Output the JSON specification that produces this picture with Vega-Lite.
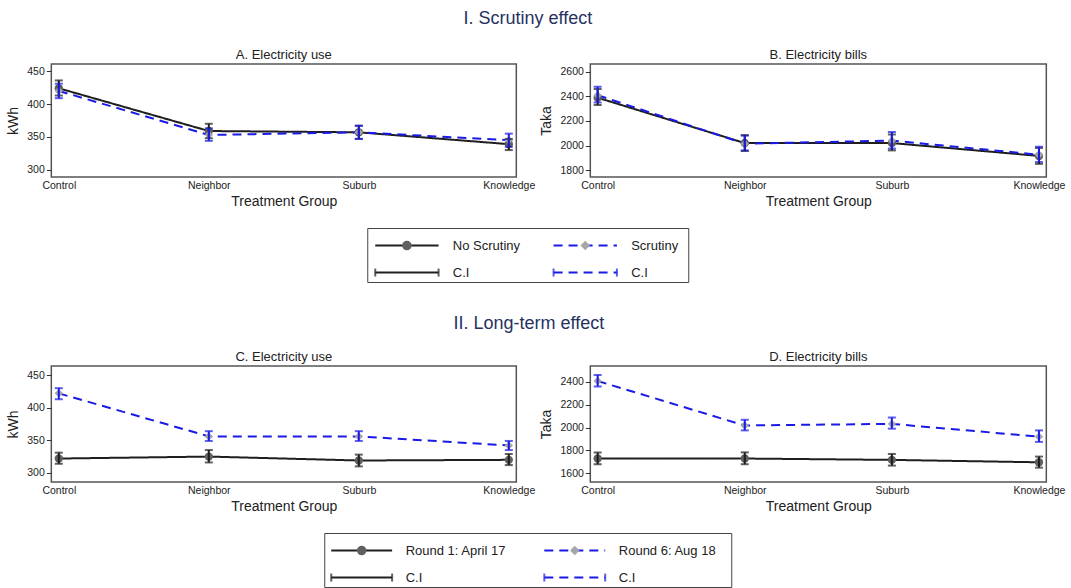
{
  "$schema": "https://vega.github.io/schema/vega-lite/v6.json",
  "padding": {"left": 6, "top": 10, "right": 2, "bottom": 0},
  "background": "white",
  "config": {
    "font": "Liberation Sans",
    "view": {"stroke": "#555555", "strokeWidth": 1.5},
    "title": {"fontSize": 13, "fontWeight": "normal", "color": "#222222", "offset": 2},
    "axis": {
      "grid": false,
      "domain": false,
      "labelFont": "Liberation Sans",
      "labelFontSize": 10.5,
      "labelColor": "#222222",
      "titleFont": "Liberation Sans",
      "titleFontSize": 14,
      "titleFontWeight": "normal",
      "titleColor": "#222222",
      "tickColor": "#333333",
      "tickSize": 5
    },
    "axisX": {"ticks": false, "labelAngle": 0, "labelPadding": 3, "titlePadding": 4},
    "axisY": {"labelPadding": 2, "titlePadding": 6, "format": "d", "labelOverlap": false}
  },
  "datasets": {
    "useScrutiny": [
      {"group": "Control", "series": "No Scrutiny", "mean": 424, "lo": 413, "hi": 436},
      {"group": "Neighbor", "series": "No Scrutiny", "mean": 359, "lo": 348, "hi": 370},
      {"group": "Suburb", "series": "No Scrutiny", "mean": 357, "lo": 347, "hi": 367},
      {"group": "Knowledge", "series": "No Scrutiny", "mean": 339, "lo": 330, "hi": 347},
      {"group": "Control", "series": "Scrutiny", "mean": 420, "lo": 409, "hi": 431},
      {"group": "Neighbor", "series": "Scrutiny", "mean": 353, "lo": 344, "hi": 363},
      {"group": "Suburb", "series": "Scrutiny", "mean": 357, "lo": 347, "hi": 367},
      {"group": "Knowledge", "series": "Scrutiny", "mean": 345, "lo": 335, "hi": 355}
    ],
    "billsScrutiny": [
      {"group": "Control", "series": "No Scrutiny", "mean": 2390, "lo": 2330, "hi": 2460},
      {"group": "Neighbor", "series": "No Scrutiny", "mean": 2020, "lo": 1955, "hi": 2085},
      {"group": "Suburb", "series": "No Scrutiny", "mean": 2020, "lo": 1960, "hi": 2090},
      {"group": "Knowledge", "series": "No Scrutiny", "mean": 1915, "lo": 1850, "hi": 1980},
      {"group": "Control", "series": "Scrutiny", "mean": 2410, "lo": 2350, "hi": 2480},
      {"group": "Neighbor", "series": "Scrutiny", "mean": 2015, "lo": 1960, "hi": 2080},
      {"group": "Suburb", "series": "Scrutiny", "mean": 2040, "lo": 1975, "hi": 2110},
      {"group": "Knowledge", "series": "Scrutiny", "mean": 1925, "lo": 1865, "hi": 1990}
    ],
    "useRounds": [
      {"group": "Control", "series": "Round 1: April 17", "mean": 322, "lo": 314, "hi": 331},
      {"group": "Neighbor", "series": "Round 1: April 17", "mean": 325, "lo": 316, "hi": 335},
      {"group": "Suburb", "series": "Round 1: April 17", "mean": 319, "lo": 310, "hi": 328},
      {"group": "Knowledge", "series": "Round 1: April 17", "mean": 320, "lo": 312, "hi": 329},
      {"group": "Control", "series": "Round 6: Aug 18", "mean": 422, "lo": 413, "hi": 430},
      {"group": "Neighbor", "series": "Round 6: Aug 18", "mean": 356, "lo": 349, "hi": 364},
      {"group": "Suburb", "series": "Round 6: Aug 18", "mean": 356, "lo": 349, "hi": 364},
      {"group": "Knowledge", "series": "Round 6: Aug 18", "mean": 342, "lo": 335, "hi": 349}
    ],
    "billsRounds": [
      {"group": "Control", "series": "Round 1: April 17", "mean": 1728, "lo": 1678, "hi": 1780},
      {"group": "Neighbor", "series": "Round 1: April 17", "mean": 1728, "lo": 1678, "hi": 1782},
      {"group": "Suburb", "series": "Round 1: April 17", "mean": 1716, "lo": 1666, "hi": 1768},
      {"group": "Knowledge", "series": "Round 1: April 17", "mean": 1695, "lo": 1648, "hi": 1745},
      {"group": "Control", "series": "Round 6: Aug 18", "mean": 2408, "lo": 2360, "hi": 2460},
      {"group": "Neighbor", "series": "Round 6: Aug 18", "mean": 2018, "lo": 1975, "hi": 2068},
      {"group": "Suburb", "series": "Round 6: Aug 18", "mean": 2032, "lo": 1990, "hi": 2088},
      {"group": "Knowledge", "series": "Round 6: Aug 18", "mean": 1920, "lo": 1874, "hi": 1975}
    ],
    "legendScrutiny": [
      {"series": "No Scrutiny", "kind": "main", "label": "No Scrutiny"},
      {"series": "Scrutiny", "kind": "main", "label": "Scrutiny"},
      {"series": "No Scrutiny", "kind": "ci", "label": "C.I"},
      {"series": "Scrutiny", "kind": "ci", "label": "C.I"}
    ],
    "legendRounds": [
      {"series": "Round 1: April 17", "kind": "main", "label": "Round 1: April 17"},
      {"series": "Round 6: Aug 18", "kind": "main", "label": "Round 6: Aug 18"},
      {"series": "Round 1: April 17", "kind": "ci", "label": "C.I"},
      {"series": "Round 6: Aug 18", "kind": "ci", "label": "C.I"}
    ]
  },
  "vconcat": [
    {
      "title": {"text": "I. Scrutiny effect", "fontSize": 18, "color": "#26325f", "anchor": "middle", "offset": 20, "dx": -8},
      "center": true,
      "spacing": 17,
      "vconcat": [
        {
          "spacing": 2,
          "hconcat": [
            {
              "width": 465, "height": 113,
              "title": "A. Electricity use",
              "data": {"name": "useScrutiny"},
              "encoding": {
                "x": {"field": "group", "type": "nominal", "sort": ["Control", "Neighbor", "Suburb", "Knowledge"], "scale": {"type": "point", "padding": 0.05}, "axis": {"title": "Treatment Group"}}
              },
              "layer": [
                {
                  "mark": {"type": "line", "strokeWidth": 2},
                  "encoding": {
                    "y": {"field": "mean", "type": "quantitative", "scale": {"domain": [289, 461], "nice": false, "zero": false}, "axis": {"title": "kWh", "values": [300, 350, 400, 450]}},
                    "color": {"field": "series", "type": "nominal", "scale": {"domain": ["No Scrutiny", "Scrutiny"], "range": ["#1e1e1e", "#1a1ae6"]}, "legend": null},
                    "strokeDash": {"field": "series", "type": "nominal", "scale": {"domain": ["No Scrutiny", "Scrutiny"], "range": [[1, 0], [9, 6]]}, "legend": null}
                  }
                },
                {
                  "mark": {"type": "point", "filled": true, "size": 70, "opacity": 1},
                  "encoding": {
                    "y": {"field": "mean", "type": "quantitative", "axis": {"title": "kWh", "values": [300, 350, 400, 450]}},
                    "shape": {"field": "series", "type": "nominal", "scale": {"domain": ["No Scrutiny", "Scrutiny"], "range": ["circle", "diamond"]}, "legend": null},
                    "fill": {"field": "series", "type": "nominal", "scale": {"domain": ["No Scrutiny", "Scrutiny"], "range": ["#606060", "#a6a6a6"]}, "legend": null}
                  }
                },
                {
                  "mark": {"type": "errorbar", "ticks": {"size": 8}, "thickness": 2},
                  "encoding": {
                    "y": {"field": "lo", "type": "quantitative", "axis": {"title": "kWh", "values": [300, 350, 400, 450]}},
                    "y2": {"field": "hi"},
                    "color": {"field": "series", "type": "nominal", "legend": null}
                  }
                }
              ]
            },
            {
              "width": 456, "height": 113,
              "title": "B. Electricity bills",
              "data": {"name": "billsScrutiny"},
              "encoding": {
                "x": {"field": "group", "type": "nominal", "sort": ["Control", "Neighbor", "Suburb", "Knowledge"], "scale": {"type": "point", "padding": 0.05}, "axis": {"title": "Treatment Group"}}
              },
              "layer": [
                {
                  "mark": {"type": "line", "strokeWidth": 2},
                  "encoding": {
                    "y": {"field": "mean", "type": "quantitative", "scale": {"domain": [1743, 2665], "nice": false, "zero": false}, "axis": {"title": "Taka", "values": [1800, 2000, 2200, 2400, 2600]}},
                    "color": {"field": "series", "type": "nominal", "scale": {"domain": ["No Scrutiny", "Scrutiny"], "range": ["#1e1e1e", "#1a1ae6"]}, "legend": null},
                    "strokeDash": {"field": "series", "type": "nominal", "scale": {"domain": ["No Scrutiny", "Scrutiny"], "range": [[1, 0], [9, 6]]}, "legend": null}
                  }
                },
                {
                  "mark": {"type": "point", "filled": true, "size": 70, "opacity": 1},
                  "encoding": {
                    "y": {"field": "mean", "type": "quantitative", "axis": {"title": "Taka", "values": [1800, 2000, 2200, 2400, 2600]}},
                    "shape": {"field": "series", "type": "nominal", "scale": {"domain": ["No Scrutiny", "Scrutiny"], "range": ["circle", "diamond"]}, "legend": null},
                    "fill": {"field": "series", "type": "nominal", "scale": {"domain": ["No Scrutiny", "Scrutiny"], "range": ["#606060", "#a6a6a6"]}, "legend": null}
                  }
                },
                {
                  "mark": {"type": "errorbar", "ticks": {"size": 8}, "thickness": 2},
                  "encoding": {
                    "y": {"field": "lo", "type": "quantitative", "axis": {"title": "Taka", "values": [1800, 2000, 2200, 2400, 2600]}},
                    "y2": {"field": "hi"},
                    "color": {"field": "series", "type": "nominal", "legend": null}
                  }
                }
              ]
            }
          ]
        },
        {
          "width": 321, "height": 54,
          "view": {"stroke": "#444444", "strokeWidth": 1},
          "data": {"name": "legendScrutiny"},
          "encoding": {
            "y": {"field": "kind", "type": "nominal", "scale": {"type": "point", "domain": ["main", "ci"], "padding": 0.5, "align": 0.65}, "axis": {"orient": "right", "offset": 61, "title": null, "labels": false, "ticks": false, "domain": true, "domainColor": "transparent"}}
          },
          "layer": [
            {
              "mark": {"type": "rule", "strokeWidth": 2},
              "encoding": {
                "x": {"field": "series", "type": "nominal", "bandPosition": 0.056, "scale": {"type": "band", "domain": ["No Scrutiny", "Scrutiny"], "paddingInner": 0.2, "paddingOuter": 0}, "axis": null},
                "x2": {"field": "series", "bandPosition": 0.5},
                "color": {"field": "series", "type": "nominal", "scale": {"domain": ["No Scrutiny", "Scrutiny"], "range": ["#1e1e1e", "#1a1ae6"]}, "legend": null},
                "strokeDash": {"field": "series", "type": "nominal", "scale": {"domain": ["No Scrutiny", "Scrutiny"], "range": [[1, 0], [8, 6]]}, "legend": null}
              }
            },
            {
              "transform": [{"filter": "datum.kind === 'main'"}],
              "mark": {"type": "point", "filled": true, "size": 90, "opacity": 1},
              "encoding": {
                "x": {"field": "series", "type": "nominal", "bandPosition": 0.278},
                "shape": {"field": "series", "type": "nominal", "scale": {"domain": ["No Scrutiny", "Scrutiny"], "range": ["circle", "diamond"]}, "legend": null},
                "fill": {"field": "series", "type": "nominal", "scale": {"domain": ["No Scrutiny", "Scrutiny"], "range": ["#606060", "#a6a6a6"]}, "legend": null}
              }
            },
            {
              "transform": [{"filter": "datum.kind === 'ci'"}],
              "mark": {"type": "tick", "orient": "vertical", "size": 8, "thickness": 2},
              "encoding": {
                "x": {"field": "series", "type": "nominal", "bandPosition": 0.056},
                "color": {"field": "series", "type": "nominal", "legend": null}
              }
            },
            {
              "transform": [{"filter": "datum.kind === 'ci'"}],
              "mark": {"type": "tick", "orient": "vertical", "size": 8, "thickness": 2},
              "encoding": {
                "x": {"field": "series", "type": "nominal", "bandPosition": 0.5},
                "color": {"field": "series", "type": "nominal", "legend": null}
              }
            },
            {
              "mark": {"type": "text", "align": "left", "baseline": "middle", "fontSize": 13, "color": "#222222"},
              "encoding": {
                "x": {"field": "series", "type": "nominal", "bandPosition": 0.6},
                "text": {"field": "label"}
              }
            }
          ]
        }
      ]
    },
    {
      "title": {"text": "II. Long-term effect", "fontSize": 18, "color": "#26325f", "anchor": "middle", "offset": 17, "dx": -7},
      "center": true,
      "spacing": 17,
      "vconcat": [
        {
          "spacing": 2,
          "hconcat": [
            {
              "width": 465, "height": 116,
              "title": "C. Electricity use",
              "data": {"name": "useRounds"},
              "encoding": {
                "x": {"field": "group", "type": "nominal", "sort": ["Control", "Neighbor", "Suburb", "Knowledge"], "scale": {"type": "point", "padding": 0.05}, "axis": {"title": "Treatment Group"}}
              },
              "layer": [
                {
                  "mark": {"type": "line", "strokeWidth": 2},
                  "encoding": {
                    "y": {"field": "mean", "type": "quantitative", "scale": {"domain": [286, 464], "nice": false, "zero": false}, "axis": {"title": "kWh", "values": [300, 350, 400, 450]}},
                    "color": {"field": "series", "type": "nominal", "scale": {"domain": ["Round 1: April 17", "Round 6: Aug 18"], "range": ["#1e1e1e", "#1a1ae6"]}, "legend": null},
                    "strokeDash": {"field": "series", "type": "nominal", "scale": {"domain": ["Round 1: April 17", "Round 6: Aug 18"], "range": [[1, 0], [9, 6]]}, "legend": null}
                  }
                },
                {
                  "mark": {"type": "point", "filled": true, "size": 70, "opacity": 1},
                  "encoding": {
                    "y": {"field": "mean", "type": "quantitative", "axis": {"title": "kWh", "values": [300, 350, 400, 450]}},
                    "shape": {"field": "series", "type": "nominal", "scale": {"domain": ["Round 1: April 17", "Round 6: Aug 18"], "range": ["circle", "diamond"]}, "legend": null},
                    "fill": {"field": "series", "type": "nominal", "scale": {"domain": ["Round 1: April 17", "Round 6: Aug 18"], "range": ["#606060", "#a6a6a6"]}, "legend": null}
                  }
                },
                {
                  "mark": {"type": "errorbar", "ticks": {"size": 8}, "thickness": 2},
                  "encoding": {
                    "y": {"field": "lo", "type": "quantitative", "axis": {"title": "kWh", "values": [300, 350, 400, 450]}},
                    "y2": {"field": "hi"},
                    "color": {"field": "series", "type": "nominal", "legend": null}
                  }
                }
              ]
            },
            {
              "width": 456, "height": 116,
              "title": "D. Electricity bills",
              "data": {"name": "billsRounds"},
              "encoding": {
                "x": {"field": "group", "type": "nominal", "sort": ["Control", "Neighbor", "Suburb", "Knowledge"], "scale": {"type": "point", "padding": 0.05}, "axis": {"title": "Treatment Group"}}
              },
              "layer": [
                {
                  "mark": {"type": "line", "strokeWidth": 2},
                  "encoding": {
                    "y": {"field": "mean", "type": "quantitative", "scale": {"domain": [1522, 2540], "nice": false, "zero": false}, "axis": {"title": "Taka", "values": [1600, 1800, 2000, 2200, 2400]}},
                    "color": {"field": "series", "type": "nominal", "scale": {"domain": ["Round 1: April 17", "Round 6: Aug 18"], "range": ["#1e1e1e", "#1a1ae6"]}, "legend": null},
                    "strokeDash": {"field": "series", "type": "nominal", "scale": {"domain": ["Round 1: April 17", "Round 6: Aug 18"], "range": [[1, 0], [9, 6]]}, "legend": null}
                  }
                },
                {
                  "mark": {"type": "point", "filled": true, "size": 70, "opacity": 1},
                  "encoding": {
                    "y": {"field": "mean", "type": "quantitative", "axis": {"title": "Taka", "values": [1600, 1800, 2000, 2200, 2400]}},
                    "shape": {"field": "series", "type": "nominal", "scale": {"domain": ["Round 1: April 17", "Round 6: Aug 18"], "range": ["circle", "diamond"]}, "legend": null},
                    "fill": {"field": "series", "type": "nominal", "scale": {"domain": ["Round 1: April 17", "Round 6: Aug 18"], "range": ["#606060", "#a6a6a6"]}, "legend": null}
                  }
                },
                {
                  "mark": {"type": "errorbar", "ticks": {"size": 8}, "thickness": 2},
                  "encoding": {
                    "y": {"field": "lo", "type": "quantitative", "axis": {"title": "Taka", "values": [1600, 1800, 2000, 2200, 2400]}},
                    "y2": {"field": "hi"},
                    "color": {"field": "series", "type": "nominal", "legend": null}
                  }
                }
              ]
            }
          ]
        },
        {
          "width": 407, "height": 54,
          "view": {"stroke": "#444444", "strokeWidth": 1},
          "data": {"name": "legendRounds"},
          "encoding": {
            "y": {"field": "kind", "type": "nominal", "scale": {"type": "point", "domain": ["main", "ci"], "padding": 0.5, "align": 0.65}, "axis": {"orient": "right", "offset": 61, "title": null, "labels": false, "ticks": false, "domain": true, "domainColor": "transparent"}}
          },
          "layer": [
            {
              "mark": {"type": "rule", "strokeWidth": 2},
              "encoding": {
                "x": {"field": "series", "type": "nominal", "bandPosition": 0.036, "scale": {"type": "band", "domain": ["Round 1: April 17", "Round 6: Aug 18"], "paddingInner": 0.09, "paddingOuter": 0}, "axis": null},
                "x2": {"field": "series", "bandPosition": 0.35},
                "color": {"field": "series", "type": "nominal", "scale": {"domain": ["Round 1: April 17", "Round 6: Aug 18"], "range": ["#1e1e1e", "#1a1ae6"]}, "legend": null},
                "strokeDash": {"field": "series", "type": "nominal", "scale": {"domain": ["Round 1: April 17", "Round 6: Aug 18"], "range": [[1, 0], [8, 6]]}, "legend": null}
              }
            },
            {
              "transform": [{"filter": "datum.kind === 'main'"}],
              "mark": {"type": "point", "filled": true, "size": 90, "opacity": 1},
              "encoding": {
                "x": {"field": "series", "type": "nominal", "bandPosition": 0.193},
                "shape": {"field": "series", "type": "nominal", "scale": {"domain": ["Round 1: April 17", "Round 6: Aug 18"], "range": ["circle", "diamond"]}, "legend": null},
                "fill": {"field": "series", "type": "nominal", "scale": {"domain": ["Round 1: April 17", "Round 6: Aug 18"], "range": ["#606060", "#a6a6a6"]}, "legend": null}
              }
            },
            {
              "transform": [{"filter": "datum.kind === 'ci'"}],
              "mark": {"type": "tick", "orient": "vertical", "size": 8, "thickness": 2},
              "encoding": {
                "x": {"field": "series", "type": "nominal", "bandPosition": 0.036},
                "color": {"field": "series", "type": "nominal", "legend": null}
              }
            },
            {
              "transform": [{"filter": "datum.kind === 'ci'"}],
              "mark": {"type": "tick", "orient": "vertical", "size": 8, "thickness": 2},
              "encoding": {
                "x": {"field": "series", "type": "nominal", "bandPosition": 0.35},
                "color": {"field": "series", "type": "nominal", "legend": null}
              }
            },
            {
              "mark": {"type": "text", "align": "left", "baseline": "middle", "fontSize": 13, "color": "#222222"},
              "encoding": {
                "x": {"field": "series", "type": "nominal", "bandPosition": 0.42},
                "text": {"field": "label"}
              }
            }
          ]
        }
      ]
    }
  ],
  "spacing": 32
}
